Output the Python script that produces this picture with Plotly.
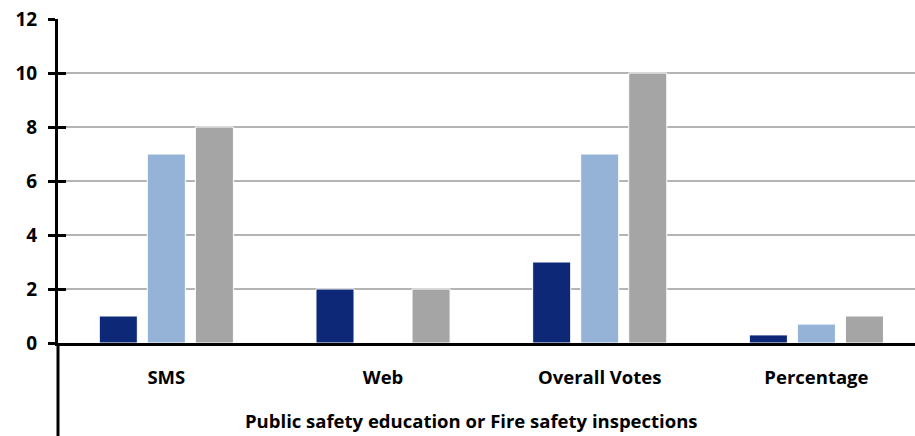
import plotly.graph_objects as go

categories = ["SMS", "Web", "Overall Votes", "Percentage"]
series_a = [1, 2, 3, 0.3]
series_b = [7, 0, 7, 0.7]
series_c = [8, 2, 10, 1.0]
y_ticks = [0, 2, 4, 6, 8, 10, 12]
x_title = "Public safety education or Fire safety inspections"

colors = ["#0e2878", "#95b3d7", "#a5a5a5"]
FONT = "Open Sans"
BF = dict(family=FONT, size=18.5, color="black", weight=700)
YF = dict(family=FONT, size=19, color="black", weight=700)

fig = go.Figure()
for vals, col in zip([series_a, series_b, series_c], colors):
    fig.add_trace(go.Bar(
        x=categories, y=vals, marker=dict(color=col, line=dict(color="white", width=1)),
        showlegend=False,
    ))
fig.add_trace(go.Scatter(x=categories, y=series_a, yaxis="y2", mode="markers",
                         marker=dict(opacity=0), showlegend=False, hoverinfo="skip"))

fig.update_layout(
    width=915, height=436,
    margin=dict(l=58, r=0, t=19, b=93),
    plot_bgcolor="white", paper_bgcolor="white",
    barmode="group", bargap=0.335, bargroupgap=0.208,
    font=BF,
    xaxis=dict(
        range=[-0.5, 3.455], showgrid=False, showline=True, linecolor="black", linewidth=3,
        ticks="", ticklabelstandoff=16, tickfont=BF,
    ),
    yaxis=dict(
        range=[0, 12], tickvals=y_ticks, showgrid=True, gridcolor="#b4b4b4", gridwidth=2,
        showline=True, linecolor="black", linewidth=3, zeroline=False,
        ticks="outside", ticklen=7, tickwidth=3, tickcolor="black",
        ticklabelstandoff=7, tickfont=YF,
    ),
    yaxis2=dict(
        range=[0, 12], tickvals=y_ticks, overlaying="y", side="left",
        showgrid=False, showticklabels=False, ticks="inside", ticklen=8, tickwidth=3,
        tickcolor="black", showline=False, zeroline=False,
    ),
    annotations=[dict(text=x_title, xref="paper", yref="paper", x=0.4825, y=-0.2407,
                      xanchor="center", yanchor="middle", showarrow=False, font=BF)],
    shapes=[dict(type="line", xref="paper", yref="paper", x0=0, x1=0, y0=-0.3, y1=0,
                 line=dict(color="black", width=3))],
)

fig.write_html("out.html", config={"displayModeBar": False},
               post_script="document.body.style.margin='0';document.body.style.overflow='hidden';")
